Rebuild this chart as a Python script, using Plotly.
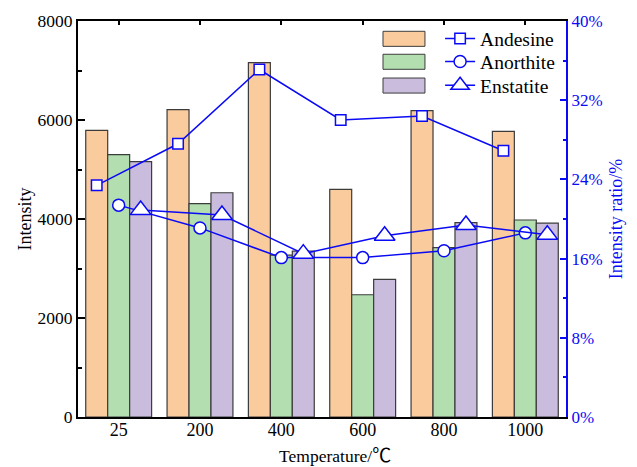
import plotly.graph_objects as go

categories = ["25", "200", "400", "600", "800", "1000"]
andesine_int = [5790, 6210, 7160, 4600, 6190, 5770]
anorthite_int = [5300, 4310, 3270, 2470, 3420, 3980]
enstatite_int = [5160, 4530, 3350, 2780, 3925, 3915]
andesine_ratio = [23.4, 27.6, 35.1, 30.0, 30.4, 26.9]
anorthite_ratio = [21.4, 19.1, 16.1, 16.1, 16.8, 18.6]
enstatite_ratio = [20.9, 20.4, 16.5, 18.3, 19.4, 18.4]

series_names = ["Andesine", "Anorthite", "Enstatite"]
fills = ["#F9CB9D", "#B2DEB0", "#C9BCDC"]
symbols = ["square", "circle", "triangle-up"]
sizes = [10.5, 12, 18]
blue = "#0A0AF5"
font = "Liberation Serif"

bar_w = 0.27
offsets = [-bar_w, 0.0, bar_w]
idx = list(range(len(categories)))

fig = go.Figure()
for name, vals, col, off in zip(series_names, [andesine_int, anorthite_int, enstatite_int], fills, offsets):
    fig.add_trace(go.Bar(
        x=[i + off for i in idx], y=vals, width=bar_w, name=name,
        marker=dict(color=col, line=dict(color="rgb(60,60,60)", width=1.2)),
        showlegend=False, xaxis="x", yaxis="y"))

legend_ids = ["legend", "legend2", "legend3"]
for name, vals, sym, sz, off, lg in zip(series_names, [andesine_ratio, anorthite_ratio, enstatite_ratio],
                                        symbols, sizes, offsets, legend_ids):
    fig.add_trace(go.Scatter(
        x=[i + off for i in idx], y=vals, name=name, mode="lines+markers",
        line=dict(color=blue, width=1.5),
        marker=dict(symbol=sym, size=sz, color="white", line=dict(color=blue, width=1.5)),
        xaxis="x", yaxis="y2", legend=lg, cliponaxis=False))

# legend rows (paper coords)
row_y = [0.955, 0.897, 0.837]
swatch_x0, swatch_x1 = 0.625, 0.711
for col, yc in zip(fills, row_y):
    fig.add_shape(type="rect", xref="paper", yref="paper",
                  x0=swatch_x0, x1=swatch_x1, y0=yc - 0.019, y1=yc + 0.019,
                  fillcolor=col, line=dict(color="rgb(60,60,60)", width=1))

legend_common = dict(x=0.742, xanchor="left", yanchor="middle",
                     bgcolor="rgba(0,0,0,0)", font=dict(size=19.5, family=font, color="black"),
                     itemwidth=30)

x_title = ("&nbsp;" * 6 + "Temperature/"
           "<span style=\"font-family:'Noto Sans CJK SC';font-size:19px\">℃</span>")

fig.update_layout(
    width=637, height=467,
    margin=dict(l=70, r=79, t=13, b=58, autoexpand=False),
    paper_bgcolor="white", plot_bgcolor="white",
    barmode="overlay",
    font=dict(family=font, size=17, color="black"),
    legend=dict(y=row_y[0], **legend_common),
    legend2=dict(y=row_y[1], **legend_common),
    legend3=dict(y=row_y[2], **legend_common),
    xaxis=dict(range=[-0.5, 5.5], tickvals=idx, ticktext=categories, automargin=False,
               showline=True, linecolor="black", linewidth=2, mirror="ticks",
               ticks="inside", ticklen=4, tickwidth=1.5, tickcolor="black",
               ticklabelstandoff=-5,
               layer="below traces", showgrid=False, zeroline=False,
               title=dict(text=x_title, font=dict(size=17.5, family=font), standoff=2),
               tickfont=dict(size=18, family=font)),
    yaxis=dict(range=[0, 8000], dtick=2000, ticks="inside", ticklen=7, tickwidth=2, automargin=False,
               tickcolor="black", showline=True, linecolor="black", linewidth=2,
               minor=dict(dtick=1000, ticks="inside", ticklen=4, tickwidth=2, tickcolor="black"),
               showgrid=False, zeroline=False,
               title=dict(text="Intensity", font=dict(size=18, family=font), standoff=1),
               tickfont=dict(size=17.5, family=font)),
    yaxis2=dict(range=[0, 40], dtick=8, ticksuffix="%", overlaying="y", side="right", automargin=False,
                anchor="x", ticks="inside", ticklen=6, tickwidth=2, tickcolor=blue,
                showline=True, linecolor=blue, linewidth=2,
                minor=dict(dtick=4, ticks="inside", ticklen=3, tickwidth=2, tickcolor=blue),
                showgrid=False, zeroline=False,
                title=dict(text="Intensity ratio/%", font=dict(size=18, color=blue, family=font), standoff=8),
                tickfont=dict(size=17, color=blue, family=font)),
)

fig.write_html("out.html")
